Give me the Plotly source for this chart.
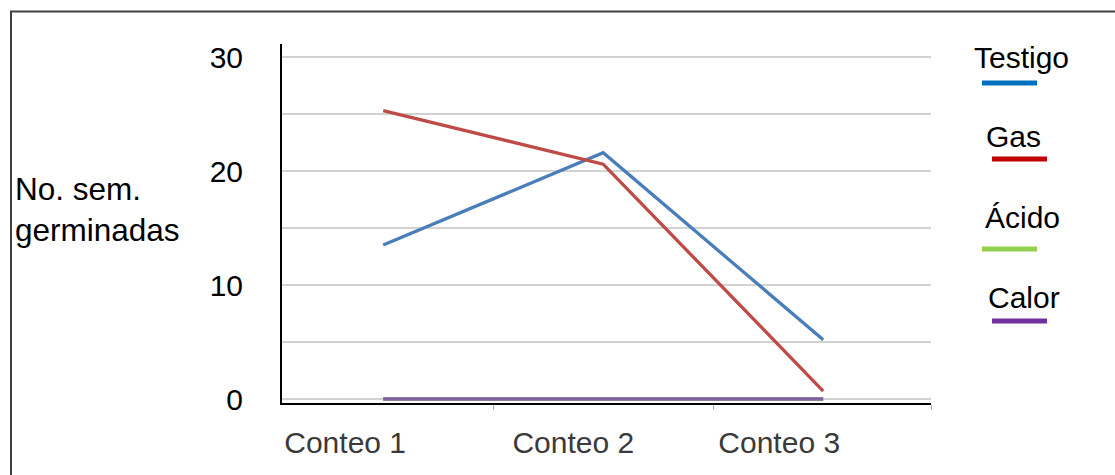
import plotly.graph_objects as go

# Germination counts per treatment across the three counts
categories = ["Conteo 1", "Conteo 2", "Conteo 3"]
testigo = [13.5, 21.6, 5.2]
gas = [25.3, 20.6, 0.7]
acido = [0, 0, 0]
calor = [0, 0, 0]

series_names = ["Testigo", "Gas", "Ácido", "Calor"]
series_values = [testigo, gas, acido, calor]
line_colors = ["#4a7ebb", "#be4b48", "#98b954", "#7f63a1"]
swatch_colors = ["#0070c0", "#c00000", "#92d050", "#7030a0"]

y_ticks = [0, 10, 20, 30]
y_title = "No. sem.<br>germinadas"

FONT = "Liberation Sans, Arial, sans-serif"
W, H = 1115, 475
ML, MR, MT, MB = 282, 184, 44, 72
PW, PH = W - ML - MR, H - MT - MB


def px(x):
    return (x - ML) / PW


def py(y):
    return (H - MB - y) / PH


fig = go.Figure()
xs = list(range(len(categories)))
for name, vals, col in zip(series_names, series_values, line_colors):
    fig.add_trace(go.Scatter(
        x=xs, y=vals, mode="lines", name=name,
        line=dict(color=col, width=3.3), showlegend=False,
    ))

# category labels sit a little left of each point
label_pos = [-0.173, 0.864, 1.8]

fig.update_layout(
    width=W, height=H,
    margin=dict(l=ML, r=MR, t=MT, b=MB, pad=0),
    paper_bgcolor="white", plot_bgcolor="white",
    font=dict(family=FONT, color="black"),
    xaxis=dict(
        range=[-0.46, 2.49], showgrid=False, zeroline=False,
        showline=True, linecolor="black", linewidth=2,
        tickmode="array", tickvals=label_pos, ticktext=categories,
        ticks="", tickfont=dict(size=30, color="#3a3a3a"),
        ticklabelstandoff=12,
        minor=dict(tickmode="array", tickvals=[0.5, 1.5, 2.49],
                   ticks="outside", ticklen=5, tickwidth=1,
                   tickcolor="#b0b0b0", showgrid=False),
    ),
    yaxis=dict(
        range=[-0.35, 31.14], zeroline=False,
        showline=True, linecolor="black", linewidth=2,
        tickmode="array", tickvals=y_ticks, ticks="",
        tickfont=dict(size=30, color="black"),
        ticklabelstandoff=31,
        showgrid=True, gridcolor="#d2d2d2", gridwidth=2,
        minor=dict(dtick=5, tick0=0, showgrid=True,
                   gridcolor="#d2d2d2", gridwidth=2, ticks=""),
    ),
)

# outer frame
fig.add_shape(type="rect", xref="paper", yref="paper",
              x0=px(11), x1=px(1125), y0=py(485), y1=py(11.5),
              line=dict(color="#404040", width=2), layer="above")

# axis title
fig.add_annotation(text=y_title, xref="paper", yref="paper",
                   x=px(13), y=py(209), xanchor="left", yanchor="middle",
                   align="left", showarrow=False,
                   font=dict(size=31.5, color="black", family=FONT))

# legend: label above a short coloured bar
legend_text_x = [972, 984, 983, 986]
legend_text_y = [57, 136, 217, 297]
legend_bar_x = [(982, 1037), (992, 1047), (982, 1037), (992, 1047)]
legend_bar_y = [83, 159, 249, 321]
for i, name in enumerate(series_names):
    fig.add_annotation(text=name, xref="paper", yref="paper",
                       x=px(legend_text_x[i]), y=py(legend_text_y[i]),
                       xanchor="left", yanchor="middle", showarrow=False,
                       font=dict(size=30, color="black", family=FONT))
    fig.add_shape(type="line", xref="paper", yref="paper",
                  x0=px(legend_bar_x[i][0]), x1=px(legend_bar_x[i][1]),
                  y0=py(legend_bar_y[i]), y1=py(legend_bar_y[i]),
                  line=dict(color=swatch_colors[i], width=5))

fig.write_html("out.html")
